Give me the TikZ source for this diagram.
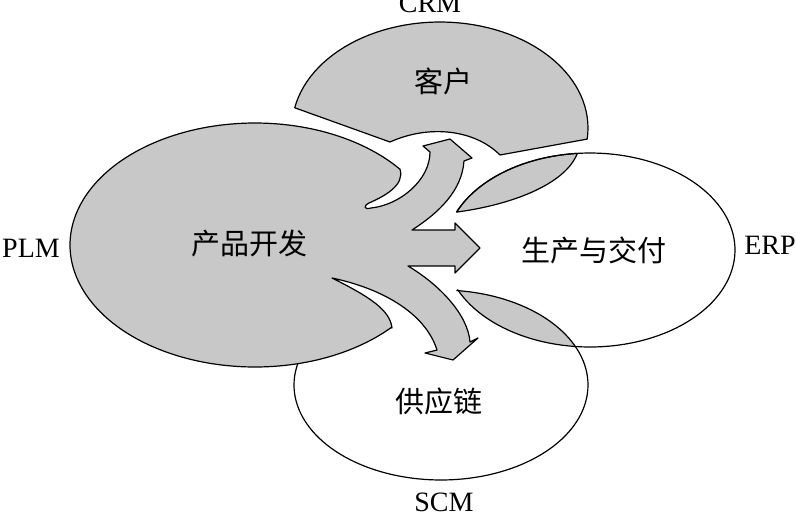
\documentclass[tikz,border=0pt]{standalone}
\usepackage{fontspec}
\setmainfont{Liberation Serif}
\newfontfamily\cjk{Noto Sans CJK SC}
\definecolor{plmgray}{RGB}{200,200,200}
\tikzset{
  region/.style={fill=plmgray, draw=black, line width=1.2pt, line join=round},
  outline/.style={draw=black, line width=1.2pt},
  zh/.style={font=\cjk\fontsize{29}{34}\selectfont, inner sep=0pt},
  sys/.style={font=\fontsize{28}{34}\selectfont, inner sep=0pt, anchor=base},
}

\begin{document}
\begin{tikzpicture}[x=1pt, y=-1pt]
\useasboundingbox (0,0) rectangle (796,515);
% CRM
\draw[region] plot[domain=191:366, samples=60] ({440+148*cos(\x)}, {128+106*sin(\x)})
  -- (500,155) .. controls (475,130) and (430,124) .. (390,142) -- cycle;
% overlaps with ERP
\begin{scope}
  \clip (590,250) ellipse [x radius=145pt, y radius=97pt];
  \fill[plmgray] (441,385) ellipse [x radius=147pt, y radius=95pt];
\end{scope}
\draw[region] plot[domain=203:265, samples=20] ({590+145*cos(\x)}, {250+97*sin(\x)})
  .. controls (565,185) and (510,205) .. (456.5,212.1) -- cycle;
% ERP and SCM outlines
\draw[outline] plot[domain=203:516, samples=120] ({590+145*cos(\x)}, {250+97*sin(\x)});
\draw[outline] plot[domain=276:570, samples=120] ({441+147*cos(\x)}, {385+95*sin(\x)});
% PLM with its three arrows
\draw[region] plot[domain=180:321.6, samples=80] ({255+185*cos(\x)}, {245+122*sin(\x)})
  .. controls (405,185) and (385,196) .. (369,203)
  .. controls (363,206) and (364,210) .. (371,208)
  .. controls (400,205) and (430,180) .. (430,152)
  -- (423,146) -- (450,139) -- (472,158) -- (464,161)
  .. controls (462,190) and (440,212) .. (412,230)
  -- (455,230) -- (455,223) -- (480,248) -- (455,273) -- (455,266) -- (408,266)
  .. controls (440,285) and (468,315) .. (470,342)
  -- (478,338) -- (453,360) -- (425,353) -- (437,350)
  .. controls (425,312) and (380,288) .. (332,278)
  .. controls (370,297) and (390,310) .. (392,328)
  -- plot[domain=42.6:180, samples=80] ({255+185*cos(\x)}, {245+122*sin(\x)}) -- cycle;
% texts
\node[zh] (crmtext) at (443,81) {客户};
\node[zh] (plmtext) at (249,244) {产品开发};
\node[zh] (erptext) at (594,250) {生产与交付};
\node[zh] (scmtext) at (439,401) {供应链};
\node[sys] (crm) at (430,12) {CRM};
\node[sys] (plm) at (31,257) {PLM};
\node[sys] (erp) at (770,254) {ERP};
\node[sys] (scm) at (444,511) {SCM};
\end{tikzpicture}
\end{document}
